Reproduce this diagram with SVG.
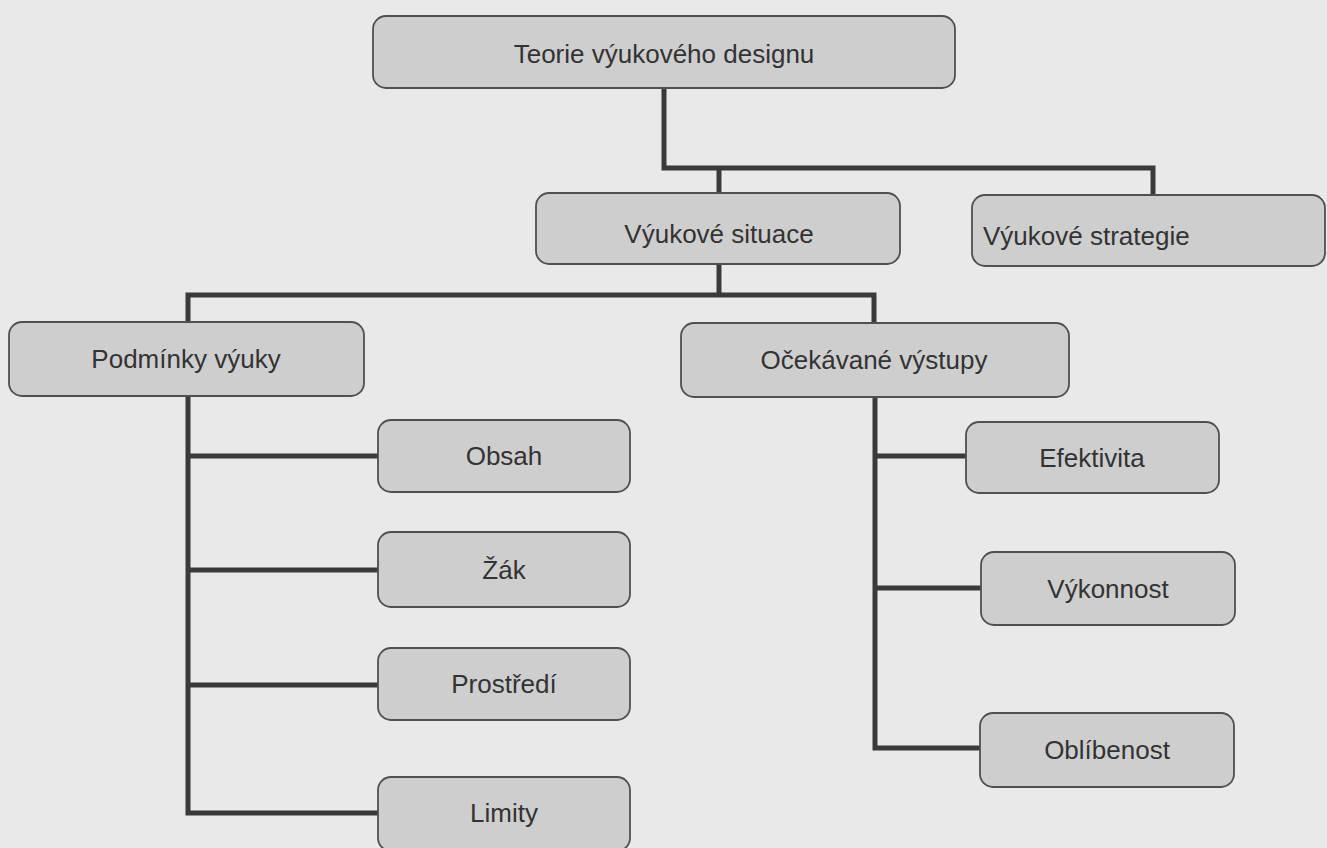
<svg xmlns="http://www.w3.org/2000/svg" width="1327" height="848" viewBox="0 0 1327 848">
<style>
.box{fill:#cecece;stroke:#505050;stroke-width:1.8}
.lbl{font-family:"Liberation Sans",Arial,sans-serif;font-size:26px;fill:#333;text-anchor:middle}
.con{fill:none;stroke:#3a3a3a;stroke-width:5;stroke-linejoin:miter}
</style>
<rect x="0" y="0" width="1327" height="848" fill="#e9e9e9"/>
<g id="connectors">
<path class="con" d="M664 86 V168 H1153 V197"/>
<path class="con" d="M719 168 V195"/>
<path class="con" d="M719 262 V295"/>
<path class="con" d="M188 324 V295 H874 V325"/>
<path class="con" d="M188 394 V813 H380"/>
<path class="con" d="M188 456 H380"/>
<path class="con" d="M188 570 H380"/>
<path class="con" d="M188 685 H380"/>
<path class="con" d="M875 395 V748 H982"/>
<path class="con" d="M875 456 H968"/>
<path class="con" d="M875 588 H983"/>
</g>
<g id="n-teorie"><rect class="box" x="373" y="16" width="582" height="72" rx="13"/><text class="lbl" x="664" y="63">Teorie výukového designu</text></g>
<g id="n-situace"><rect class="box" x="536" y="193" width="364" height="71" rx="13"/><text class="lbl" x="719" y="243">Výukové situace</text></g>
<g id="n-strategie"><rect class="box" x="972" y="195" width="353" height="71" rx="13"/><text class="lbl" x="983" y="245" style="text-anchor:start">Výukové strategie</text></g>
<g id="n-podminky"><rect class="box" x="9" y="322" width="355" height="74" rx="13"/><text class="lbl" x="186" y="368">Podmínky výuky</text></g>
<g id="n-ocekavane"><rect class="box" x="681" y="323" width="388" height="74" rx="13"/><text class="lbl" x="874" y="369">Očekávané výstupy</text></g>
<g id="n-obsah"><rect class="box" x="378" y="420" width="252" height="72" rx="13"/><text class="lbl" x="504" y="465">Obsah</text></g>
<g id="n-zak"><rect class="box" x="378" y="532" width="252" height="75" rx="13"/><text class="lbl" x="504" y="579">Žák</text></g>
<g id="n-prostredi"><rect class="box" x="378" y="648" width="252" height="72" rx="13"/><text class="lbl" x="504" y="693">Prostředí</text></g>
<g id="n-limity"><rect class="box" x="378" y="777" width="252" height="74" rx="13"/><text class="lbl" x="504" y="822">Limity</text></g>
<g id="n-efektivita"><rect class="box" x="966" y="422" width="253" height="71" rx="13"/><text class="lbl" x="1092" y="467">Efektivita</text></g>
<g id="n-vykonnost"><rect class="box" x="981" y="552" width="254" height="73" rx="13"/><text class="lbl" x="1108" y="598">Výkonnost</text></g>
<g id="n-oblibenost"><rect class="box" x="980" y="713" width="254" height="74" rx="13"/><text class="lbl" x="1107" y="759">Oblíbenost</text></g>
</svg>
